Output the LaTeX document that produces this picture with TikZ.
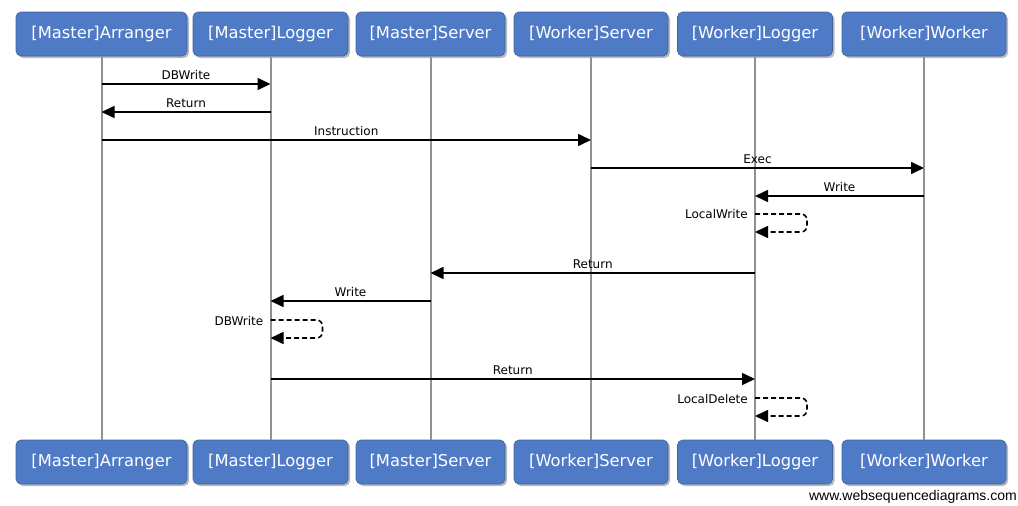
\documentclass[tikz,border=0pt]{standalone}
\usepackage{fontspec}
\setmainfont{DejaVu Sans}
\newfontfamily\arialfont{Liberation Sans}
\usetikzlibrary{arrows.meta,shadows}
\definecolor{boxblue}{RGB}{79,122,198}
\definecolor{lifegrey}{RGB}{145,145,145}
\tikzset{
  actor/.style={draw=boxblue!80!black, line width=0.6pt, fill=boxblue, rounded corners=5pt,
    minimum height=44pt, inner sep=0pt, text=white, text height=12pt, text depth=3.5pt,
    font=\fontsize{16.3}{19}\selectfont,
    drop shadow={shadow xshift=2pt, shadow yshift=-2pt, opacity=0.45, fill=black!60}},
  lifeline/.style={draw=lifegrey, line width=2pt},
  msg/.style={draw=black, line width=1.6pt, -{Triangle[length=13pt,width=12pt]}},
  selfmsg/.style={draw=black, line width=1.6pt, dash pattern=on 5pt off 3pt, rounded corners=6pt,
    -{Triangle[length=13pt,width=12pt]}},
  lbl/.style={font=\fontsize{12}{14}\selectfont, inner sep=1pt, anchor=south, yshift=2.5pt},
  slbl/.style={font=\fontsize{12}{14}\selectfont, inner sep=1pt, anchor=east}
}
\begin{document}
\begin{tikzpicture}[x=1pt,y=-1pt]
\useasboundingbox (0,0) rectangle (1018,506);
% top actors
\node[actor, minimum width=171pt] (t1) at (101.5,34) {[Master]Arranger};
\node[actor, minimum width=155pt] (t2) at (270.5,34) {[Master]Logger};
\node[actor, minimum width=149pt] (t3) at (430.5,34) {[Master]Server};
\node[actor, minimum width=154pt] (t4) at (591,34) {[Worker]Server};
\node[actor, minimum width=155pt] (t5) at (755,34) {[Worker]Logger};
\node[actor, minimum width=164pt] (t6) at (924,34) {[Worker]Worker};
% bottom actors
\node[actor, minimum width=171pt] (b1) at (101.5,462) {[Master]Arranger};
\node[actor, minimum width=155pt] (b2) at (270.5,462) {[Master]Logger};
\node[actor, minimum width=149pt] (b3) at (430.5,462) {[Master]Server};
\node[actor, minimum width=154pt] (b4) at (591,462) {[Worker]Server};
\node[actor, minimum width=155pt] (b5) at (755,462) {[Worker]Logger};
\node[actor, minimum width=164pt] (b6) at (924,462) {[Worker]Worker};
% lifelines
\foreach \i in {1,...,6} {
  \draw[lifeline] (t\i.south) -- (b\i.north);
}
% messages
\draw[msg] (t1 |- 0,84) -- node[lbl]{DBWrite} (t2 |- 0,84);
\draw[msg] (t2 |- 0,112) -- node[lbl]{Return} (t1 |- 0,112);
\draw[msg] (t1 |- 0,140) -- node[lbl]{Instruction} (t4 |- 0,140);
\draw[msg] (t4 |- 0,168) -- node[lbl]{Exec} (t6 |- 0,168);
\draw[msg] (t6 |- 0,196) -- node[lbl]{Write} (t5 |- 0,196);
\draw[selfmsg] (t5 |- 0,214) -- ++(52,0) -- ++(0,18) -- (t5 |- 0,232);
\node[slbl] (ls1) at ([xshift=-6pt]t5 |- 0,214) {LocalWrite};
\draw[msg] (t5 |- 0,273) -- node[lbl]{Return} (t3 |- 0,273);
\draw[msg] (t3 |- 0,301) -- node[lbl]{Write} (t2 |- 0,301);
\draw[selfmsg] (t2 |- 0,320) -- ++(52,0) -- ++(0,18) -- (t2 |- 0,338);
\node[slbl] (ls2) at ([xshift=-6pt]t2 |- 0,321) {DBWrite};
\draw[msg] (t2 |- 0,379) -- node[lbl]{Return} (t5 |- 0,379);
\draw[selfmsg] (t5 |- 0,398) -- ++(52,0) -- ++(0,18) -- (t5 |- 0,416);
\node[slbl] (ls3) at ([xshift=-6pt]t5 |- 0,399) {LocalDelete};
% footer
\node[anchor=east, font=\arialfont\fontsize{14}{16}\selectfont, inner sep=0pt] (wm) at (1017,497) {www.websequencediagrams.com};
\end{tikzpicture}
\end{document}
